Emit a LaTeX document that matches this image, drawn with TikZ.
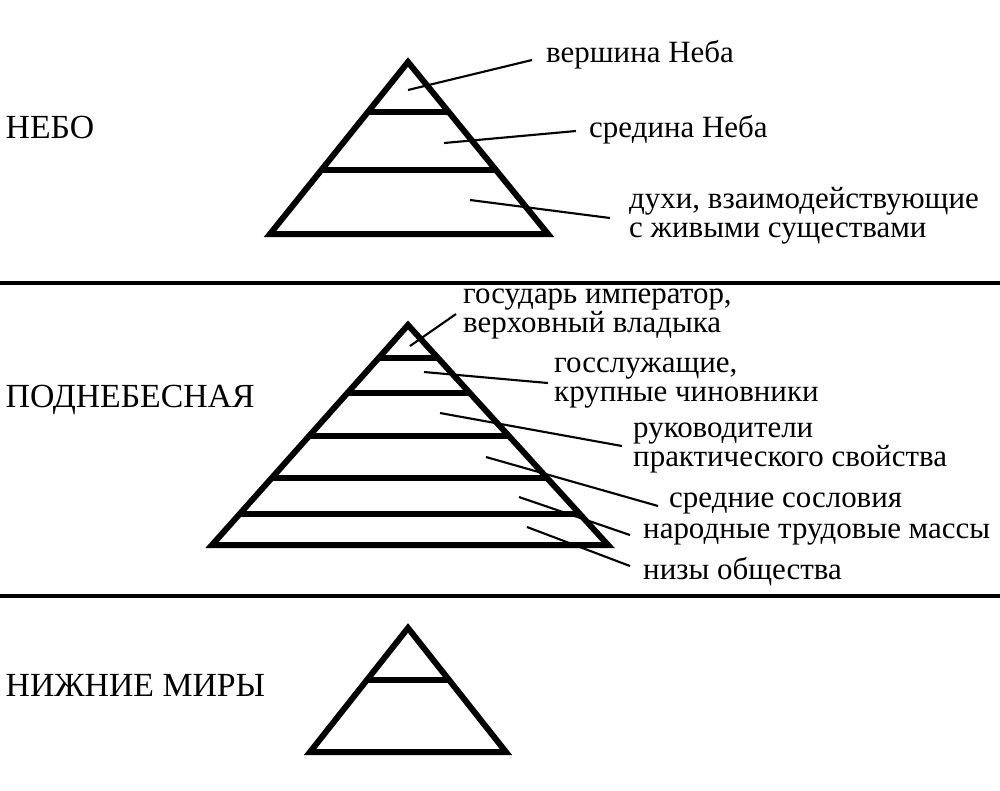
\documentclass[tikz,border=0pt]{standalone}
\usepackage{fontspec}
\setmainfont{Liberation Serif}
\usetikzlibrary{positioning}
\tikzset{tier/.style={line width=1.7pt,line join=miter},
  sep/.style={line width=0.9pt},
  lead/.style={line width=0.6pt},
  lbl/.style={anchor=west,inner sep=1pt,align=left,font=\fontsize{8.8}{8.2}\selectfont},
  realm/.style={anchor=west,inner sep=0pt,font=\fontsize{9.6}{9}\selectfont}}
\begin{document}
\begin{tikzpicture}[x=0.01cm,y=-0.01cm]
\useasboundingbox (0,0) rectangle (1000,790);
% separators
\coordinate (s1l) at (0,283); \coordinate (s1r) at (1000,283);
\coordinate (s2l) at (0,596); \coordinate (s2r) at (1000,596);
\draw[sep] (s1l) -- (s1r);
\draw[sep] (s2l) -- (s2r);
% realms
\node[realm] (heaven) at (5,127) {НЕБО};
\node[realm] (middle) at (5,400) {ПОДНЕБЕСНАЯ};
\node[realm] (lower) at (5,685) {НИЖНИЕ МИРЫ};
% upper pyramid
\coordinate (a1) at (408,62);
\draw[tier] (a1) -- (548,234) -- (270,234) -- cycle;
\foreach \y in {112,170}
  \draw[tier] ({408-138/172*(\y-62)},\y) -- ({408+140/172*(\y-62)},\y);
\node[lbl] (top) at (542,55) {вершина Неба};
\node[lbl] (mid) at (585,130) {средина Неба};
\node[lbl] (spirits) at (625,216) {духи, взаимодействующие\\с живыми существами};
\coordinate (p1) at (408,90); \coordinate (p2) at (444,143); \coordinate (p3) at (470,200);
\draw[lead] (p1) -- (532,60);
\draw[lead] (p2) -- (576,131);
\draw[lead] (p3) -- (610,218);
% middle pyramid
\coordinate (a2) at (408,325);
\draw[tier] (a2) -- (608,545) -- (212,545) -- cycle;
\foreach \y in {358,393,436,478,514}
  \draw[tier] ({408-196/220*(\y-325)},\y) -- ({408+200/220*(\y-325)},\y);
\node[lbl] (emperor) at (459,314) {государь император,\\верховный владыка};
\node[lbl] (officials) at (550,383) {госслужащие,\\крупные чиновники};
\node[lbl] (leaders) at (629,448) {руководители\\практического свойства};
\node[lbl] (estates) at (665,503) {средние сословия};
\node[lbl] (masses) at (639,535) {народные трудовые массы};
\node[lbl] (bottom) at (639,572) {низы общества};
\coordinate (q1) at (410,346); \coordinate (q2) at (424,372); \coordinate (q3) at (440,413);
\coordinate (q4) at (486,457); \coordinate (q5) at (519,497); \coordinate (q6) at (527,527);
\draw[lead] (q1) -- (456,314);
\draw[lead] (q2) -- (548,383);
\draw[lead] (q3) -- (622,446);
\draw[lead] (q4) -- (658,506);
\draw[lead] (q5) -- (630,535);
\draw[lead] (q6) -- (630,566);
% lower pyramid
\coordinate (a3) at (408,628);
\draw[tier] (a3) -- (506,752) -- (310,752) -- cycle;
\draw[tier] ({408-98/124*52},680) -- ({408+98/124*52},680);
\end{tikzpicture}
\end{document}
